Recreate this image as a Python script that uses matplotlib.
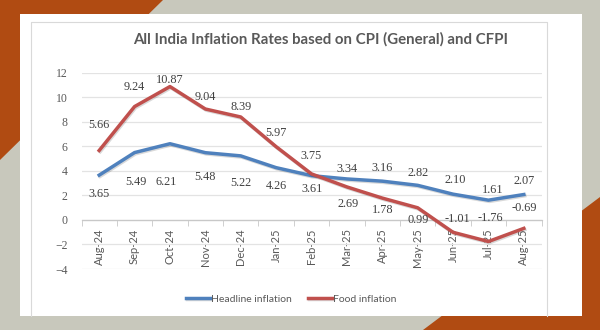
import matplotlib
matplotlib.use("Agg")
import matplotlib.pyplot as plt
import matplotlib.patheffects as pe
from matplotlib.patches import Polygon, Rectangle

months = ["Aug-24", "Sep-24", "Oct-24", "Nov-24", "Dec-24", "Jan-25", "Feb-25",
          "Mar-25", "Apr-25", "May-25", "Jun-25", "Jul-25", "Aug-25"]
headline = [3.65, 5.49, 6.21, 5.48, 5.22, 4.26, 3.61, 3.34, 3.16, 2.82, 2.10, 1.61, 2.07]
food = [5.66, 9.24, 10.87, 9.04, 8.39, 5.97, 3.75, 2.69, 1.78, 0.99, -1.01, -1.76, -0.69]

# label offsets in pixels (negative = above the point)
headline_dy = [19, 29, 38, 24, 27, 18, 13, -10, -13, -12, -14, -10, -14]
food_dy = [-25, -20, -7, -12, -10, -14, -18, 17, 12, 12, -13, -24, -20]
headline_dx = [0, 1, -4, 0, 0, 0, 1, 0, 0, 0, 2, 4, 0]
food_dx = [0, 0, 0, 0, 0, 0, 0, 1, 0, 1, 4, 2, 0]

W, H = 600, 330
BLUE = "#4F81BD"
RED = "#C0504D"
ORANGE = "#B04B12"
GREY_TXT = "#595959"

fig = plt.figure(figsize=(6, 3.3), dpi=100)
fig.patch.set_facecolor("#C8C8BC")

# decorative background in pixel coordinates
bg = fig.add_axes([0, 0, 1, 1], zorder=0)
bg.set_xlim(0, W)
bg.set_ylim(H, 0)
bg.axis("off")
bg.add_patch(Polygon([(0, 0), (163, 0), (0, 160)], closed=True, color=ORANGE, lw=0))
bg.add_patch(Polygon([(600, 330), (423, 330), (600, 197)], closed=True, color=ORANGE, lw=0))
bg.add_patch(Rectangle((20, 14), 562, 302, facecolor="white", edgecolor="none"))
# chart frame (bottom edge is cut off by the panel)
bg.plot([31, 31, 547, 547], [316, 22, 22, 316], color="#D9D9D9", lw=0.8)

ax = fig.add_axes([81.5 / W, 1 - 269 / H, 460 / W, 196.3 / H], zorder=1)
ax.set_facecolor("none")

x = range(len(months))
shadow = [pe.SimpleLineShadow(offset=(0.7, -0.9), shadow_color="#000000", alpha=0.15), pe.Normal()]
ax.plot(x, headline, color=BLUE, lw=2.5, solid_joinstyle="round", path_effects=shadow,
        label="Headline inflation", zorder=3)
ax.plot(x, food, color=RED, lw=2.5, solid_joinstyle="round", path_effects=shadow,
        label="Food inflation", zorder=3)

for i, v in enumerate(headline):
    ax.annotate(f"{v:.2f}", (i, v), xytext=(headline_dx[i], -headline_dy[i]),
                textcoords="offset pixels", ha="center", va="center",
                fontsize=8.8, family="Liberation Serif", color="#404040", zorder=4)
for i, v in enumerate(food):
    ax.annotate(f"{v:.2f}", (i, v), xytext=(food_dx[i], -food_dy[i]),
                textcoords="offset pixels", ha="center", va="center",
                fontsize=8.8, family="Liberation Serif", color="#404040", zorder=4)

ax.set_xlim(-0.5, len(months) - 0.5)
ax.set_ylim(-4, 12)
ax.set_yticks(range(-4, 13, 2))
ax.yaxis.grid(True, color="#E3E3E3", lw=0.9)
ax.set_axisbelow(True)
for s in ["top", "right", "left"]:
    ax.spines[s].set_visible(False)
ax.spines["bottom"].set_position(("data", 0))
ax.spines["bottom"].set_color("#C8C8C8")
ax.spines["bottom"].set_linewidth(0.9)

ax.set_xticks(list(x))
ax.set_xticklabels(months, rotation=90, fontsize=8, family="Lato", color=GREY_TXT)
ax.set_xticks([i + 0.5 for i in range(-1, len(months))], minor=True)
ax.tick_params(axis="x", which="major", length=0, pad=6)
ax.tick_params(axis="x", which="minor", length=4, color="#C8C8C8", direction="out")
ax.tick_params(axis="y", length=0, pad=10, labelsize=8.5, labelcolor=GREY_TXT)
for lab in ax.get_yticklabels():
    lab.set_family("Liberation Serif")

fig.text(321 / W, 1 - 39 / H, "All India Inflation Rates based on CPI (General) and CFPI",
         ha="center", va="center", fontsize=10.8, fontweight="bold", family="Lato", color=GREY_TXT)

leg = fig.legend(loc="center", bbox_to_anchor=(291 / W, 1 - 299 / H), ncol=2, frameon=False,
                 handlelength=2.3, handletextpad=0.1, columnspacing=1.6,
                 prop={"family": "Lato", "size": 7.5})
for t in leg.get_texts():
    t.set_color(GREY_TXT)

fig.savefig("out.png", dpi=100)
